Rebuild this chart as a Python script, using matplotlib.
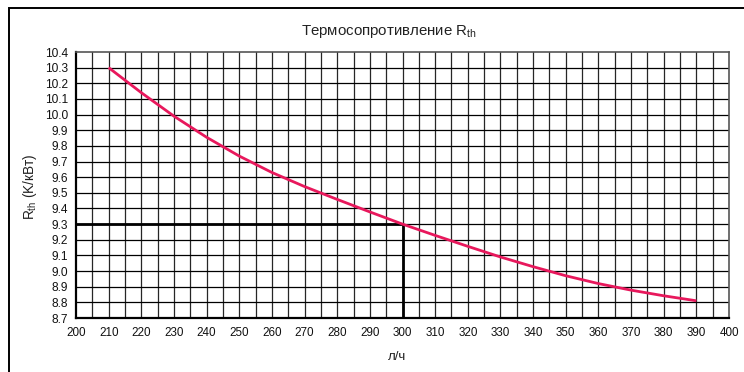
import matplotlib
matplotlib.use("Agg")
import matplotlib.pyplot as plt
from matplotlib.patches import Rectangle
import numpy as np

plt.rcParams['font.family'] = ['Liberation Sans', 'DejaVu Sans']
plt.rcParams['mathtext.fontset'] = 'custom'
plt.rcParams['mathtext.rm'] = 'Liberation Sans'
plt.rcParams['mathtext.it'] = 'Liberation Sans'

# Flow rate (л/ч) and thermal resistance Rth (K/кВт)
flow = [210, 220, 230, 240, 250, 260, 270, 280, 290, 300,
        310, 320, 330, 340, 350, 360, 370, 380, 390]
rth = [10.30, 10.14, 9.99, 9.855, 9.735, 9.63, 9.54, 9.458, 9.378, 9.30,
       9.228, 9.158, 9.09, 9.028, 8.97, 8.92, 8.878, 8.842, 8.81]

# Operating point marked on the chart
op_flow = 300
op_rth = 9.30

x_ticks = list(range(200, 401, 10))
y_ticks = [round(8.7 + 0.1 * i, 1) for i in range(18)]

title = "Термосопротивление R$_{\\mathrm{th}}$"
xlabel = "л/ч"
ylabel = "R$_{\\mathrm{th}}$ (K/кВт)"

fig = plt.figure(figsize=(7.44, 3.72), dpi=100)
ax = fig.add_axes([76 / 744, 1 - 318 / 372, (729 - 76) / 744, (318 - 52) / 372])

ax.set_xlim(200, 400)
ax.set_ylim(8.7, 10.4)

# grid: vertical every 5, horizontal every 0.1
for xv in np.arange(205, 400, 5):
    ax.axvline(xv, color='#262626', lw=0.9, zorder=1)
for yv in y_ticks[1:-1]:
    ax.axhline(yv, color='#000000', lw=0.9, zorder=1)

ax.set_xticks(x_ticks)
ax.set_yticks(y_ticks)
ax.set_yticklabels([f"{v:.1f}" for v in y_ticks])
ax.tick_params(axis='y', length=0, labelsize=8.6, pad=5.5, colors='#111111')
ax.tick_params(axis='x', length=0, labelsize=8.4, pad=6.5, colors='#111111')

for side in ['top', 'right']:
    ax.spines[side].set_color('#555555')
    ax.spines[side].set_linewidth(1.2)
for side in ['left', 'bottom']:
    ax.spines[side].set_color('#000000')
    ax.spines[side].set_linewidth(1.6)

# operating point guide lines
ax.plot([200, op_flow], [op_rth, op_rth], color='black', lw=2.0, zorder=3,
        solid_capstyle='butt')
ax.plot([op_flow, op_flow], [8.7, op_rth], color='black', lw=2.0, zorder=3,
        solid_capstyle='butt')

# resistance curve
ax.plot(flow, rth, color='#e8185c', lw=2.0, zorder=4,
        solid_capstyle='butt', solid_joinstyle='round')

fig.text(389 / 744, 1 - 32 / 372, title, ha='center', va='center',
         fontsize=10.8, color='#222222')
fig.text(397 / 744, 1 - 357 / 372, xlabel, ha='center', va='center',
         fontsize=9.5, color='#222222')
fig.text(30 / 744, 1 - 187 / 372, ylabel, ha='center', va='center',
         rotation=90, fontsize=9.8, color='#222222')

# outer frame, running past the right and bottom edges
fig.patches.append(Rectangle((8.5 / 744, -0.1), 1.0, 1 - 7.5 / 372 + 0.1,
                             transform=fig.transFigure, fill=False,
                             edgecolor='black', lw=1.4))

fig.savefig("out.png", dpi=100)
